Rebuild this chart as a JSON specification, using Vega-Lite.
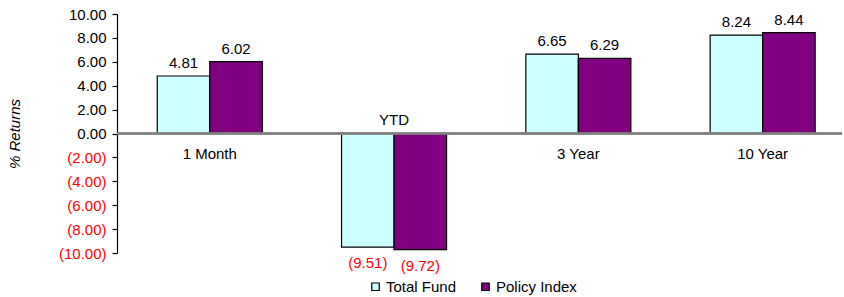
{
  "$schema": "https://vega.github.io/schema/vega-lite/v6.json",
  "width": 725,
  "height": 239,
  "padding": {"left": 7, "top": 7, "right": 0, "bottom": 0},
  "background": "white",
  "config": {
    "view": {"stroke": null},
    "font": "Liberation Sans",
    "text": {"font": "Liberation Sans", "fontSize": 15}
  },
  "data": {
    "values": [
      {"period": "1 Month", "series": "Total Fund", "value": 4.81},
      {"period": "1 Month", "series": "Policy Index", "value": 6.02},
      {"period": "YTD", "series": "Total Fund", "value": -9.51},
      {"period": "YTD", "series": "Policy Index", "value": -9.72},
      {"period": "3 Year", "series": "Total Fund", "value": 6.65},
      {"period": "3 Year", "series": "Policy Index", "value": 6.29},
      {"period": "10 Year", "series": "Total Fund", "value": 8.24},
      {"period": "10 Year", "series": "Policy Index", "value": 8.44}
    ]
  },
  "encoding": {
    "x": {
      "field": "period",
      "type": "nominal",
      "sort": ["1 Month", "YTD", "3 Year", "10 Year"],
      "scale": {"paddingInner": 0.43, "paddingOuter": 0.182, "align": 0.6},
      "axis": null
    },
    "y": {
      "field": "value",
      "type": "quantitative",
      "scale": {"domain": [-10, 10], "nice": false},
      "axis": {
        "values": [-10, -8, -6, -4, -2, 0, 2, 4, 6, 8, 10],
        "tickCount": 11,
        "grid": false,
        "labelOverlap": false,
        "domainColor": "black",
        "domainWidth": 1.2,
        "tickColor": "black",
        "tickWidth": 1.2,
        "tickSize": 5,
        "labelFontSize": 15,
        "labelFont": "Liberation Sans",
        "labelPadding": 6,
        "labelExpr": "datum.value < 0 ? '(' + format(-datum.value, '.2f') + ')' : format(datum.value, '.2f')",
        "labelColor": {"expr": "datum.value < 0 ? '#ff0000' : '#000000'"},
        "title": "% Returns",
        "titleFont": "Liberation Sans",
        "titleFontSize": 15,
        "titleFontWeight": "normal",
        "titleFontStyle": "italic",
        "titleColor": "black",
        "titlePadding": 36
      }
    }
  },
  "layer": [
    {
      "mark": {"type": "bar", "stroke": "black", "strokeWidth": 1.2},
      "encoding": {
        "xOffset": {"field": "series", "type": "nominal", "sort": ["Total Fund", "Policy Index"], "scale": {"paddingInner": 0, "paddingOuter": 0}},
        "color": {
          "field": "series",
          "type": "nominal",
          "sort": ["Total Fund", "Policy Index"],
          "scale": {"domain": ["Total Fund", "Policy Index"], "range": ["#CCFFFF", "#800080"]},
          "legend": {
            "orient": "none",
            "legendX": 251,
            "legendY": 265,
            "direction": "horizontal",
            "title": null,
            "symbolType": "square",
            "symbolSize": 56,
            "symbolStrokeColor": "black",
            "symbolStrokeWidth": 1.2,
            "labelFontSize": 15,
            "labelFont": "Liberation Sans",
            "labelColor": "black",
            "labelOffset": 3,
            "columnPadding": 21
          }
        }
      }
    },
    {
      "mark": {"type": "rule", "color": "#808080", "strokeWidth": 1.5},
      "encoding": {"x": {"value": 0}, "x2": {"value": "width"}, "y": {"datum": 0, "type": "quantitative"}}
    },
    {
      "transform": [{"filter": "datum.value >= 0"}],
      "mark": {"type": "text", "baseline": "bottom", "dy": -5, "color": "black"},
      "encoding": {
        "xOffset": {"field": "series", "type": "nominal", "sort": ["Total Fund", "Policy Index"]},
        "text": {"field": "value", "type": "quantitative", "format": ".2f"}
      }
    },
    {
      "transform": [
        {"filter": "datum.value < 0"},
        {"calculate": "'(' + format(-datum.value, '.2f') + ')'", "as": "lbl"}
      ],
      "mark": {"type": "text", "baseline": "top", "dy": 9, "color": "#ff0000"},
      "encoding": {
        "xOffset": {"field": "series", "type": "nominal", "sort": ["Total Fund", "Policy Index"]},
        "text": {"field": "lbl", "type": "nominal"}
      }
    },
    {
      "transform": [{"filter": "datum.series == 'Total Fund' && datum.value >= 0"}],
      "mark": {"type": "text", "baseline": "top", "dy": 13, "color": "black"},
      "encoding": {
        "y": {"datum": 0, "type": "quantitative"},
        "text": {"field": "period", "type": "nominal"}
      }
    },
    {
      "transform": [{"filter": "datum.series == 'Total Fund' && datum.value < 0"}],
      "mark": {"type": "text", "baseline": "bottom", "dy": -6, "color": "black"},
      "encoding": {
        "y": {"datum": 0, "type": "quantitative"},
        "text": {"field": "period", "type": "nominal"}
      }
    }
  ]
}
